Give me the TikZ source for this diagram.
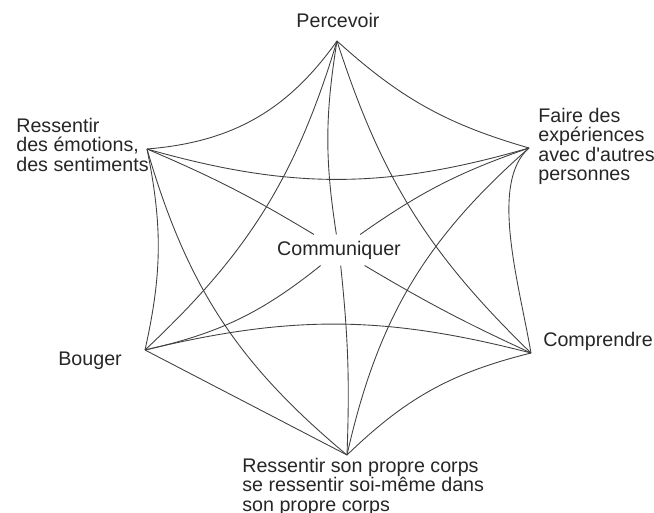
\documentclass[tikz,border=0pt]{standalone}
\usepackage{fontspec}
\setmainfont{Liberation Sans}

\begin{document}
\begin{tikzpicture}[x=0.02cm, y=-0.02cm,
    every node/.style={font=\fontsize{11.2}{11}\selectfont, text=black!85, inner sep=0pt},
    link/.style={draw=black!75, line width=0.5pt},
    lbl/.style={align=left, anchor=north west}]
\useasboundingbox (0,0) rectangle (654,513);
% corners of the hexagon
\coordinate (P) at (337,41);
\coordinate (F) at (529,148);
\coordinate (C) at (531,353);
\coordinate (S) at (347,455);
\coordinate (B) at (145,350);
\coordinate (E) at (147,149);
\node[inner xsep=2pt, inner ysep=0.12cm] (com) at (339,250) {Communiquer};
% labels
\node[anchor=base] (perc) at (338,28) {Percevoir};
\node[lbl] (emo) at (16,118) {Ressentir\\des émotions,\\des sentiments};
\node[lbl] (exp) at (538,108) {Faire des\\expériences\\avec d\textquotesingle autres\\personnes};
\node[anchor=base west] (comp) at (543,347) {Comprendre};
\node[anchor=base west] (boug) at (58,366) {Bouger};
\node[lbl] (corps) at (242,458) {Ressentir son propre corps\\se ressentir soi-même dans\\son propre corps};
% sides
\draw[link] (E) to[bend right=25] (P);
\draw[link] (P) to[bend right=13] (F);
\draw[link] (F) .. controls +(-40,35) and +(-12,-70) .. (C);
\draw[link] (C) to[bend right=15] (S);
\draw[link] (S) -- (B);
\draw[link] (B) to[bend right=12] (E);
% short diagonals
\draw[link] (E) to[bend right=16] (F);
\draw[link] (B) to[bend left=14] (C);
\draw[link] (B) to[bend right=15] (P);
\draw[link] (P) to[bend right=14] (C);
\draw[link] (F) to[bend right=18] (S);
\draw[link] (E) to[bend right=17] (S);
% spokes to the middle
\foreach \v/\b in {E/-4, P/9, F/8, B/13, S/4, C/-3}
  \draw[link] (\v) to[bend right=\b] (com);
\end{tikzpicture}
\end{document}
